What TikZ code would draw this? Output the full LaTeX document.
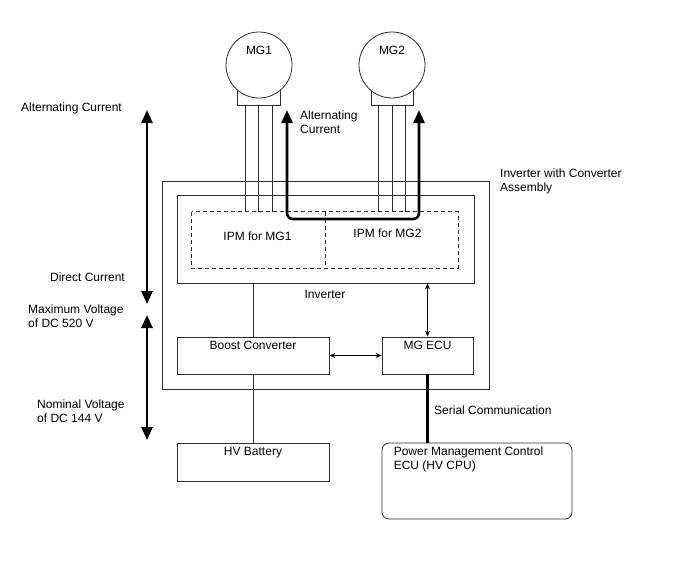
\documentclass[tikz,border=0pt]{standalone}
\usepackage{fontspec}
\setmainfont{Liberation Sans}
\usepackage{tikz}
\usetikzlibrary{arrows.meta, positioning, calc}
\definecolor{mydark}{RGB}{45,45,45}
\tikzset{
  box/.style={rectangle, draw=mydark, fill=white, line width=0.8pt, inner sep=0pt},
  ecubox/.style={box, rounded corners=7pt},
  ipmbox/.style={rectangle, minimum width=133pt, minimum height=56pt, inner sep=0pt},
  ipmline/.style={draw=mydark, line width=0.8pt, dash pattern=on 4pt off 3pt},
  motor/.style={circle, draw=mydark, fill=white, line width=0.8pt,
    minimum size=66pt, inner sep=0pt},
  lbl/.style={font=\fontsize{12}{14}\selectfont, inner sep=0pt, text=black},
  wire/.style={line width=0.8pt, color=mydark},
  arrow/.style={{Stealth[length=6pt,width=5pt]}-{Stealth[length=6pt,width=5pt]},
    line width=0.8pt, color=black},
  bigarrow/.style={{Triangle[length=13pt,width=11pt]}-{Triangle[length=13pt,width=11pt]},
    line width=2.6pt, color=black},
  serial/.style={line width=3pt, color=black}
}

\begin{document}
\begin{tikzpicture}[x=1pt, y=-1pt]
  \useasboundingbox (0,0) rectangle (688,560);

  % motors
  \node[box, minimum width=43pt, minimum height=17pt] (mg1base) at (258.5,96.5) {};
  \node[box, minimum width=42pt, minimum height=17pt] (mg2base) at (392,96.5) {};
  \node[motor, label={[lbl, anchor=north, yshift=-14pt]north:MG1}] (mg1) at (259,65) {};
  \node[motor, label={[lbl, anchor=north, yshift=-14pt]north:MG2}] (mg2) at (392,65) {};

  % inverter with converter assembly
  \node[box, minimum width=327pt, minimum height=208pt] (assy) at (325.5,285) {};
  \node[box, minimum width=297pt, minimum height=88pt] (inv) at (325.5,239) {};
  \node[ipmbox] (ipm1) at (258.5,240) {};
  \node[ipmbox] (ipm2) at (391.5,240) {};
  \draw[ipmline] (ipm1.north west) rectangle (ipm2.south east);
  \draw[ipmline] (ipm1.north east) -- (ipm1.south east);
  \node[lbl] (ipm1lbl) at (257.5,236) {IPM for MG1};
  \node[lbl] (ipm2lbl) at (387.5,233) {IPM for MG2};
  \node[lbl] (invlbl) at (325,294) {Inverter};
  \node[lbl, anchor=west, align=left] (assylbl) at (500,181) {Inverter with Converter\\Assembly};

  \node[box, minimum width=152pt, minimum height=37pt,
    label={[lbl, anchor=north, yshift=-4.5pt]north:Boost Converter}] (boost) at (253,355.5) {};
  \node[box, minimum width=91pt, minimum height=37pt,
    label={[lbl, anchor=north, yshift=-4.5pt]north:MG ECU}] (mgecu) at (427.5,355.5) {};

  % outside the assembly
  \node[box, minimum width=152pt, minimum height=38pt,
    label={[lbl, anchor=north, yshift=-4.5pt]north:HV Battery}] (hvb) at (253,462) {};
  \node[ecubox, minimum width=190pt, minimum height=76pt,
    label={[lbl, anchor=north west, align=left, xshift=12pt, yshift=-3.5pt]north west:Power Management Control\\ECU (HV CPU)}] (pmc) at (477,481) {};

  % motor wires
  \foreach \dx in {-13.5,0,13.5} {
    \draw[wire] ([xshift=\dx pt]mg1base.south) -- ([xshift=\dx pt]mg1base.south |- ipm1.north);
    \draw[wire] ([xshift=\dx pt]mg2base.south) -- ([xshift=\dx pt]mg2base.south |- ipm2.north);
  }

  % alternating current loop
  \coordinate (ac1) at (287,110);
  \coordinate (ac2) at (419,110);
  \draw[bigarrow, rounded corners=6pt] (ac1) |- ($(ac2)+(0,109)$) -- (ac2);
  \node[lbl, anchor=west, align=left] (aclbl) at (300,122) {Alternating\\Current};

  % connections
  \draw[wire] (boost.north |- inv.south) -- (boost.north);
  \draw[wire] (boost) -- (hvb);
  \draw[arrow] (mgecu.north |- inv.south) -- (mgecu.north);
  \draw[arrow] (boost.east) -- (mgecu.west);
  \draw[serial] (mgecu.south) -- (mgecu.south |- pmc.north);
  \node[lbl, anchor=west] (serlbl) at (434,410) {Serial Communication};

  % voltage ranges
  \coordinate (acTop) at (147,110);
  \coordinate (dcBot) at (147,304);
  \coordinate (hiTop) at (147,315);
  \coordinate (loBot) at (147,440);
  \draw[bigarrow] (acTop) -- (dcBot);
  \draw[bigarrow] (hiTop) -- (loBot);
  \node[lbl, anchor=east] (aclbl2) at (122,108) {Alternating Current};
  \node[lbl, anchor=east] (dclbl) at (125,277) {Direct Current};
  \node[lbl, anchor=west, align=left] (maxlbl) at (28,316.5) {Maximum Voltage\\of DC 520 V};
  \node[lbl, anchor=west, align=left] (nomlbl) at (37,411.5) {Nominal Voltage\\of DC 144 V};
\end{tikzpicture}
\end{document}
